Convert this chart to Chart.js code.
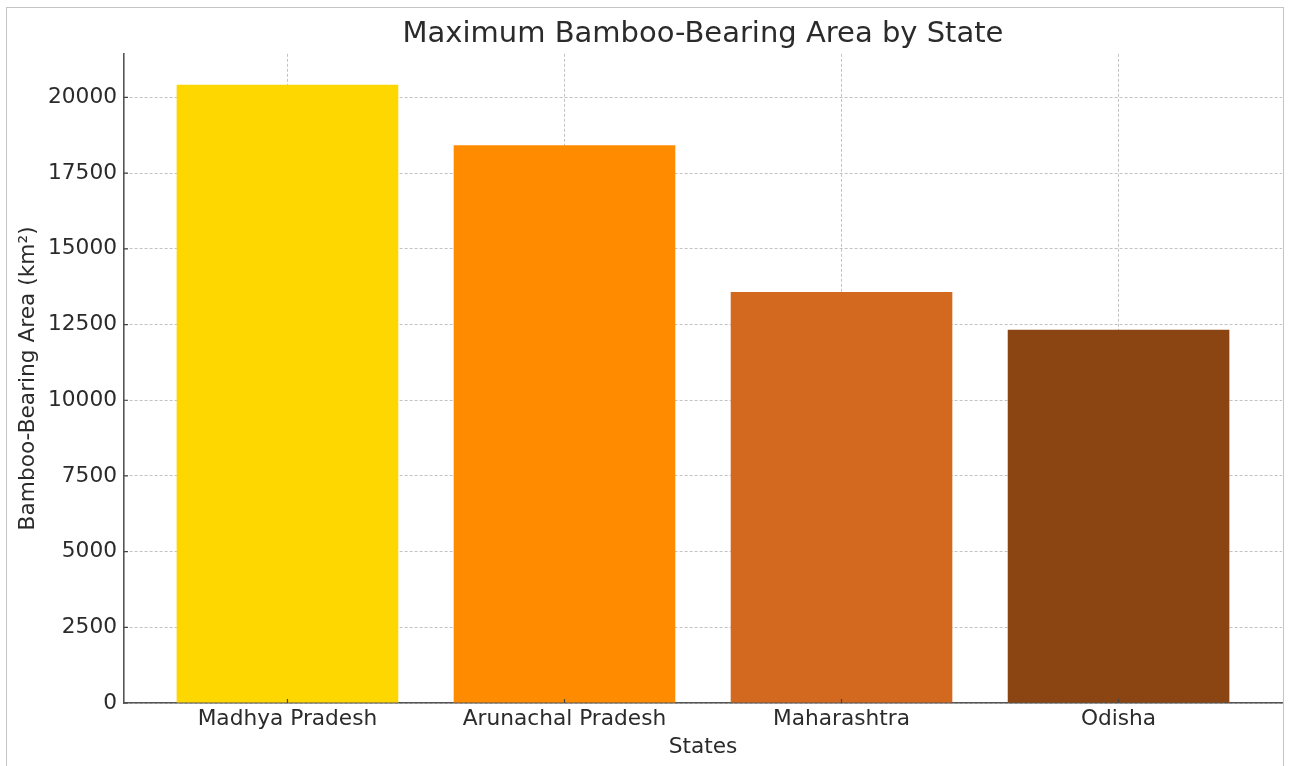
<!DOCTYPE html>
<html>
<head>
<meta charset="utf-8">
<script src="https://cdn.jsdelivr.net/npm/chart.js@4.4.0/dist/chart.umd.min.js"></script>
<style>
  html, body { margin: 0; padding: 0; background: #fff; overflow: hidden; }
  #frame { position: absolute; left: 6px; top: 7px; width: 1276px; height: 780px;
           border-left: 1px solid #c4c4c4; border-top: 1px solid #c4c4c4; border-right: 1px solid #c4c4c4; }
  #wrap { position: absolute; left: 0; top: 0; width: 1291px; height: 766px; }
</style>
</head>
<body>
<div id="frame"></div>
<div id="wrap"><canvas id="grafico"></canvas></div>
<script>
/* dados do gráfico */
const states = ['Madhya Pradesh', 'Arunachal Pradesh', 'Maharashtra', 'Odisha'];
const areas = [20421, 18424, 13572, 12328];
const barColors = ['#FFD700', '#FF8C00', '#D2691E', '#8B4513'];
const yTicks = [0, 2500, 5000, 7500, 10000, 12500, 15000, 17500, 20000];

const textColor = '#2b2b2b';
const gridColor = 'rgba(170,170,170,0.7)';
const fonte = 'DejaVu Sans';

/* marcas dos ticks para dentro, como no matplotlib */
const ticksIn = {
  id: 'ticksIn',
  afterDraw(chart) {
    const { ctx, chartArea, scales } = chart;
    ctx.save();
    ctx.strokeStyle = '#444';
    ctx.lineWidth = 1.2;
    ctx.beginPath();
    scales.y.ticks.forEach(t => {
      const py = scales.y.getPixelForValue(t.value);
      ctx.moveTo(chartArea.left, py);
      ctx.lineTo(chartArea.left + 4, py);
    });
    scales.x.ticks.forEach(t => {
      const px = scales.x.getPixelForValue(t.value);
      ctx.moveTo(px, chartArea.bottom);
      ctx.lineTo(px, chartArea.bottom - 4);
    });
    ctx.stroke();
    ctx.restore();
  }
};

const ctx = document.getElementById('grafico');
new Chart(ctx, {
  type: 'bar',
  data: {
    datasets: [{
      data: areas.map((v, i) => ({ x: i, y: v })),
      backgroundColor: barColors,
      borderWidth: 0,
      barPercentage: 1,
      categoryPercentage: 0.8
    }]
  },
  options: {
    responsive: true,
    maintainAspectRatio: false,
    animation: false,
    layout: { padding: { left: 0, right: 9, top: 0, bottom: 0 } },
    plugins: {
      legend: { display: false },
      tooltip: { enabled: false },
      title: {
        display: true,
        fullSize: false,
        text: 'Maximum Bamboo-Bearing Area by State',
        color: textColor,
        font: { family: fonte, size: 29, weight: 'normal' },
        padding: { top: 17, bottom: 2 }
      }
    },
    scales: {
      x: {
        type: 'linear',
        min: -0.59,
        max: 3.59,
        offset: false,
        z: 1,
        afterBuildTicks: s => { s.ticks = states.map((_, i) => ({ value: i })); },
        afterFit: s => { s.height = 63; },
        ticks: {
          callback: v => states[v],
          color: textColor,
          font: { family: fonte, size: 21.7 },
          padding: 3,
          maxRotation: 0,
          autoSkip: false
        },
        grid: { offset: false, color: gridColor, lineWidth: 1, drawTicks: false },
        border: { display: true, color: '#555', width: 1.6, dash: [3, 2] },
        title: {
          display: true,
          text: 'States',
          color: textColor,
          font: { family: fonte, size: 21.7 },
          padding: { top: 0, bottom: 6 }
        }
      },
      y: {
        min: 0,
        max: Math.max(...areas) * 1.05,
        z: 1,
        afterBuildTicks: s => { s.ticks = yTicks.map(v => ({ value: v })); },
        afterFit: s => { s.width = 124; },
        ticks: {
          callback: v => String(v),
          color: textColor,
          font: { family: fonte, size: 21.7 },
          padding: 7
        },
        grid: { color: gridColor, lineWidth: 1, drawTicks: false },
        border: { display: true, color: '#555', width: 1.6, dash: [3, 2] },
        title: {
          display: true,
          text: 'Bamboo-Bearing Area (km²)',
          color: textColor,
          font: { family: fonte, size: 21.7 },
          padding: { top: 15, bottom: 0 }
        }
      }
    }
  },
  plugins: [ticksIn]
});
</script>
</body>
</html>
